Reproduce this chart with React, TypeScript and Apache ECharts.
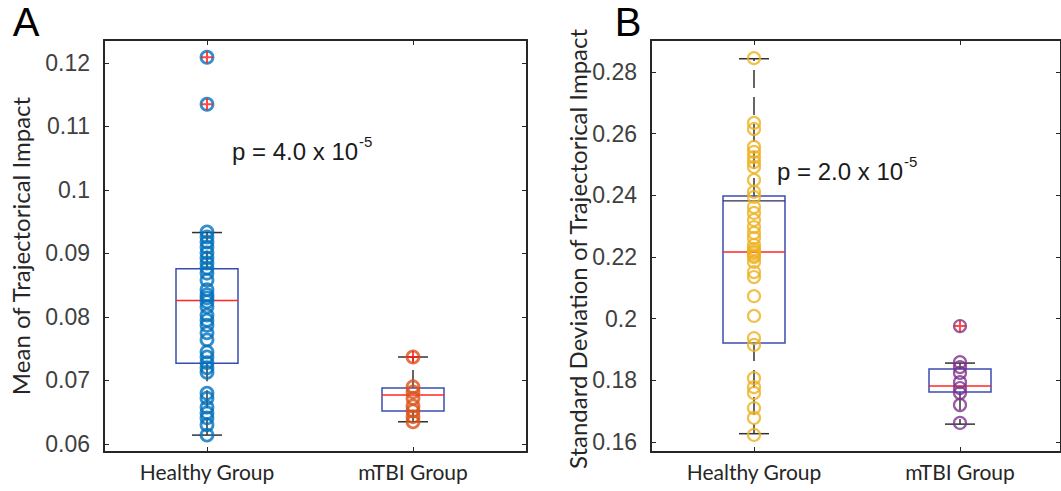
import React, { useEffect, useRef } from "react";
import * as echarts from "echarts";

const groups = ["Healthy Group", "mTBI Group"];
const yTicksMean = [0.06, 0.07, 0.08, 0.09, 0.1, 0.11, 0.12];
const yTicksSD = [0.16, 0.18, 0.2, 0.22, 0.24, 0.26, 0.28];

// Panel A: mean of trajectorical impact
const healthyMean = [
  0.1209, 0.1135, 0.0934, 0.0926, 0.0918, 0.091, 0.0901, 0.0893, 0.0885, 0.0877,
  0.0869, 0.0858, 0.0843, 0.0835, 0.083, 0.0824, 0.0816, 0.0803, 0.0795, 0.0787,
  0.0775, 0.0764, 0.0745, 0.0737, 0.0728, 0.072, 0.0713, 0.068, 0.0672, 0.0658,
  0.0649, 0.0641, 0.063, 0.0614,
];
const mtbiMean = [0.0737, 0.069, 0.0682, 0.0672, 0.066, 0.0652, 0.0643, 0.0635];
const healthyMeanOutliers = [0.1209, 0.1135];
const mtbiMeanOutliers = [0.0737];
// [lower cap, q1, median, q3, upper cap, extra line]
const healthyMeanBox = [0.0614, 0.0727, 0.0826, 0.0876, 0.0933, 0];
const mtbiMeanBox = [0.0635, 0.0652, 0.0677, 0.0688, 0.0737, 0];

// Panel B: standard deviation of trajectorical impact
const healthySD = [
  0.2845, 0.2635, 0.2615, 0.2557, 0.2541, 0.2524, 0.2508, 0.2492, 0.245, 0.2411,
  0.2395, 0.2362, 0.2343, 0.232, 0.2297, 0.2278, 0.2262, 0.2239, 0.2226, 0.2218,
  0.2213, 0.2205, 0.22, 0.2184, 0.2151, 0.2135, 0.2073, 0.2009, 0.1937, 0.1915,
  0.1807, 0.1778, 0.1759, 0.171, 0.1678, 0.1623,
];
const mtbiSD = [0.1976, 0.1859, 0.1843, 0.1824, 0.1794, 0.1775, 0.1759, 0.172, 0.1662];
const mtbiSDOutliers = [0.1976];
const healthySDBox = [0.1627, 0.1921, 0.2216, 0.2398, 0.2843, 0.2382];
const mtbiSDBox = [0.1658, 0.1762, 0.1782, 0.1837, 0.1856, 0];

const BOX = "#3b4cb0";
const MED = "#ff2626";
const WH = "#333333";
const AX = "#262626";
const TICK_TXT = "#404040";
const PLUS = "path://M-1,-6H1V-1H6V1H1V6H-1V1H-6V-1H-1Z";

const fmt = (v: number) => String(+v.toFixed(2));

const renderBox = (params: any, api: any) => {
  const x = api.value(0);
  const lo = api.coord([x, api.value(1)]);
  const q1 = api.coord([x, api.value(2)]);
  const md = api.coord([x, api.value(3)]);
  const q3 = api.coord([x, api.value(4)]);
  const hi = api.coord([x, api.value(5)]);
  const extra = api.value(6);
  const cx = lo[0];
  const bw = 31;
  const cw = 15;
  const dash = { stroke: WH, lineWidth: 1.5, lineDash: [18, 9] };
  const children: any[] = [
    { type: "line", shape: { x1: cx, y1: q3[1], x2: cx, y2: hi[1] }, style: dash },
    { type: "line", shape: { x1: cx, y1: q1[1], x2: cx, y2: lo[1] }, style: dash },
    { type: "line", shape: { x1: cx - cw, y1: hi[1], x2: cx + cw, y2: hi[1] }, style: { stroke: WH, lineWidth: 1.5 } },
    { type: "line", shape: { x1: cx - cw, y1: lo[1], x2: cx + cw, y2: lo[1] }, style: { stroke: WH, lineWidth: 1.5 } },
    {
      type: "rect",
      shape: { x: cx - bw, y: q3[1], width: 2 * bw, height: q1[1] - q3[1] },
      style: { fill: "none", stroke: BOX, lineWidth: 1.5 },
    },
    { type: "line", shape: { x1: cx - bw, y1: md[1], x2: cx + bw, y2: md[1] }, style: { stroke: MED, lineWidth: 1.5 } },
  ];
  if (extra > 0) {
    const e = api.coord([x, extra]);
    children.push({ type: "line", shape: { x1: cx - bw, y1: e[1], x2: cx + bw, y2: e[1] }, style: { stroke: "#2a2a55", lineWidth: 1.2 } });
  }
  return { type: "group", children };
};

const xAxes = (gi: number, max: number) => {
  const base = {
    gridIndex: gi,
    type: "value",
    min: 0.5,
    max,
    splitLine: { show: false },
    axisLine: { show: true, onZero: false, lineStyle: { color: AX, width: 2 } },
    axisTick: { show: true, inside: true, length: 5, customValues: [1, 2], lineStyle: { color: AX, width: 1 } },
  };
  return [
    {
      ...base,
      position: "bottom",
      axisLabel: {
        show: true,
        customValues: [1, 2],
        formatter: (v: number) => groups[Math.round(v) - 1],
        fontFamily: "Lato",
        fontSize: 21,
        color: AX,
        margin: 9,
      },
    },
    { ...base, position: "top", axisLabel: { show: false } },
  ];
};

const yAxes = (gi: number, min: number, max: number, ticks: number[]) => {
  const base = {
    gridIndex: gi,
    type: "value",
    min,
    max,
    splitLine: { show: false },
    axisLine: { show: true, onZero: false, lineStyle: { color: AX, width: 2 } },
    axisTick: { show: true, inside: true, length: 5, customValues: ticks, lineStyle: { color: AX, width: 1 } },
  };
  return [
    {
      ...base,
      position: "left",
      axisLabel: {
        show: true,
        customValues: ticks,
        formatter: fmt,
        fontFamily: "Liberation Sans",
        fontSize: 23,
        color: TICK_TXT,
        margin: 14,
      },
    },
    { ...base, position: "right", axisLabel: { show: false } },
  ];
};

const circles = (vals: number[], x: number, xi: number, yi: number, color: string, size: number, bw: number) => ({
  type: "scatter",
  xAxisIndex: xi,
  yAxisIndex: yi,
  symbol: "circle",
  symbolSize: size,
  silent: true,
  itemStyle: { color: "rgba(0,0,0,0)", borderColor: color, borderWidth: bw },
  data: vals.map((v) => [x, v]),
  z: 3,
});

const pluses = (vals: number[], x: number, xi: number, yi: number) => ({
  type: "scatter",
  xAxisIndex: xi,
  yAxisIndex: yi,
  symbol: PLUS,
  symbolSize: 12,
  silent: true,
  itemStyle: { color: "#ff1a1a" },
  data: vals.map((v) => [x, v]),
  z: 4,
});

export default function App() {
  const ref = useRef<HTMLDivElement>(null);
  useEffect(() => {
    if (!ref.current) return;
    const chart = echarts.init(ref.current, null, { renderer: "svg" });
    const option: any = {
      animation: false,
      backgroundColor: "#ffffff",
      grid: [
        { left: 104, top: 40, width: 423, height: 412 },
        { left: 651, top: 40, width: 410, height: 412 },
      ],
      xAxis: [...xAxes(0, 0.5 + 423 / 206), ...xAxes(1, 0.5 + 410 / 206)],
      yAxis: [
        ...yAxes(0, 0.05874, 0.12362, yTicksMean),
        ...yAxes(1, 0.15676, 0.29038, yTicksSD),
      ],
      series: [
        {
          type: "custom",
          xAxisIndex: 0,
          yAxisIndex: 0,
          renderItem: renderBox,
          silent: true,
          z: 2,
          data: [
            [1, ...healthyMeanBox],
            [2, ...mtbiMeanBox],
          ],
        },
        {
          type: "custom",
          xAxisIndex: 2,
          yAxisIndex: 2,
          renderItem: renderBox,
          silent: true,
          z: 2,
          data: [
            [1, ...healthySDBox],
            [2, ...mtbiSDBox],
          ],
        },
        circles(healthyMean, 1, 0, 0, "#0072BD", 12, 2.8),
        circles(mtbiMean, 2, 0, 0, "#D95319", 12, 2.8),
        circles(healthySD, 1, 2, 2, "#EDB120", 12, 2.2),
        circles(mtbiSD, 2, 2, 2, "#7E2F8E", 12, 2.2),
        pluses(healthyMeanOutliers, 1, 0, 0),
        pluses(mtbiMeanOutliers, 2, 0, 0),
        pluses(mtbiSDOutliers, 2, 2, 2),
      ],
      graphic: [
        { type: "text", x: 26, y: 22, style: { text: "A", font: "40px 'Liberation Sans'", fill: "#000", align: "center", verticalAlign: "middle" } },
        { type: "text", x: 628, y: 22, style: { text: "B", font: "40px 'Liberation Sans'", fill: "#000", align: "center", verticalAlign: "middle" } },
        {
          type: "text",
          x: 20,
          y: 246,
          rotation: Math.PI / 2,
          style: { text: "Mean of Trajectorical Impact", font: "24px Lato", fill: AX, align: "center", verticalAlign: "middle" },
        },
        {
          type: "text",
          x: 577,
          y: 249,
          rotation: Math.PI / 2,
          style: { text: "Standard Deviation of Trajectorical Impact", font: "24px Lato", fill: AX, align: "center", verticalAlign: "middle" },
        },
        { type: "text", x: 232, y: 151, style: { text: "p = 4.0 x 10", font: "24px 'Liberation Sans'", fill: "#1a1a1a", align: "left", verticalAlign: "middle" } },
        { type: "text", x: 359, y: 141, style: { text: "-5", font: "15px 'Liberation Sans'", fill: "#1a1a1a", align: "left", verticalAlign: "middle" } },
        { type: "text", x: 777, y: 171, style: { text: "p = 2.0 x 10", font: "24px 'Liberation Sans'", fill: "#1a1a1a", align: "left", verticalAlign: "middle" } },
        { type: "text", x: 904, y: 161, style: { text: "-5", font: "15px 'Liberation Sans'", fill: "#1a1a1a", align: "left", verticalAlign: "middle" } },
      ],
    };
    chart.setOption(option);
    return () => chart.dispose();
  }, []);
  return <div ref={ref} style={{ position: "fixed", left: 0, top: 0, width: 1061, height: 491 }} />;
}
